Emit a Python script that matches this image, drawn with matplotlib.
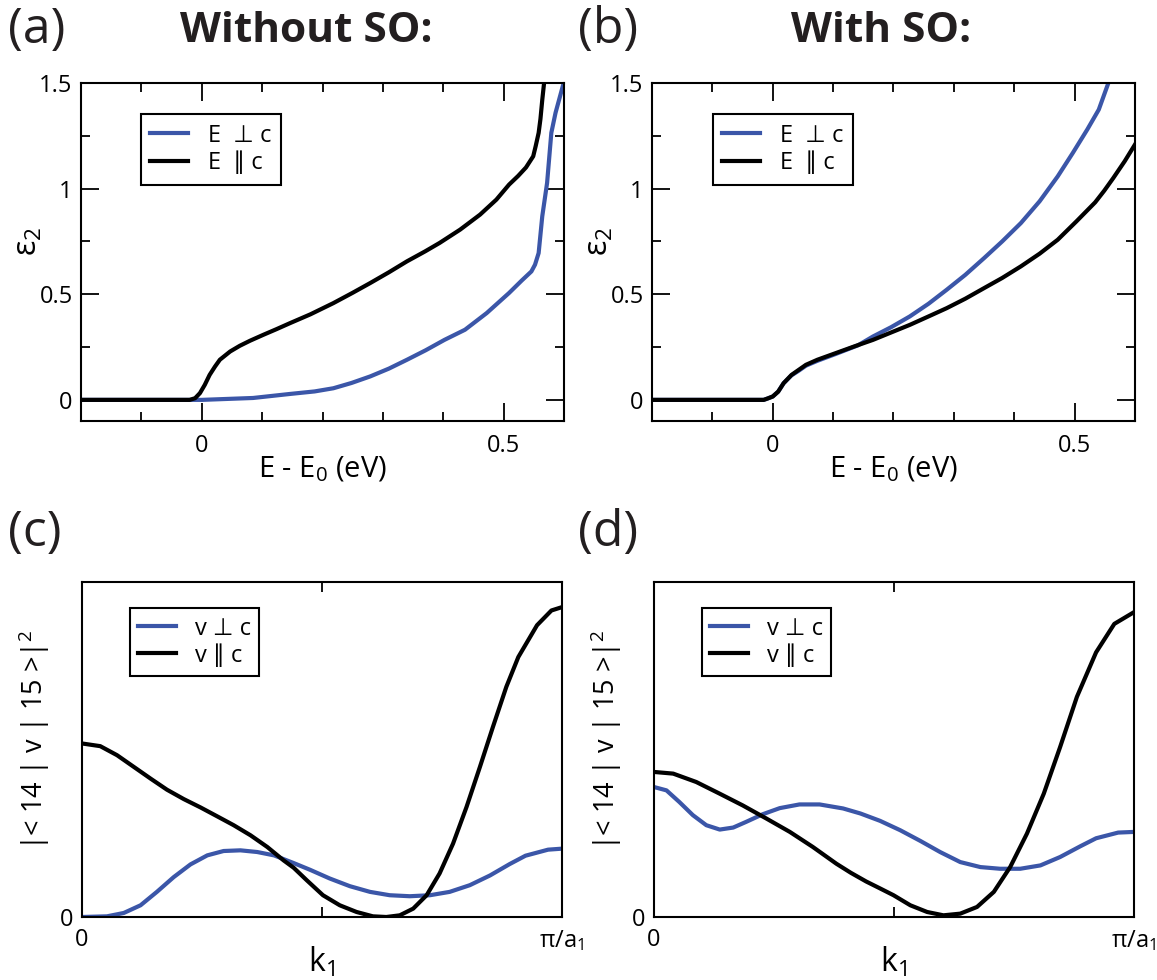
import numpy as np
import matplotlib
matplotlib.use("Agg")
import matplotlib.pyplot as plt
from matplotlib.ticker import FixedLocator

plt.rcParams['font.family'] = ['Open Sans', 'DejaVu Sans']
plt.rcParams['mathtext.fontset'] = 'custom'
plt.rcParams['mathtext.rm'] = 'Open Sans'
plt.rcParams['mathtext.it'] = 'Open Sans'

BLUE = '#3B56A8'

# ---- Panel (a): without SO ----
a_par_x = [-0.20, -0.02, -0.011, -0.003, 0.005, 0.013, 0.022, 0.03, 0.047, 0.063, 0.08, 0.102,
           0.124, 0.146, 0.18, 0.218, 0.25, 0.279, 0.31, 0.34, 0.37, 0.394, 0.428, 0.461,
           0.488, 0.509, 0.524, 0.537, 0.549, 0.553, 0.558, 0.561, 0.564, 0.567]
a_par_y = [0.0, 0.0, 0.008, 0.032, 0.071, 0.118, 0.158, 0.19, 0.229, 0.256, 0.28, 0.308,
           0.335, 0.363, 0.405, 0.458, 0.507, 0.553, 0.604, 0.656, 0.703, 0.743, 0.806, 0.877,
           0.948, 1.019, 1.06, 1.10, 1.153, 1.20, 1.264, 1.33, 1.42, 1.50]
a_perp_x = [-0.20, 0.0, 0.085, 0.146, 0.187, 0.218, 0.248, 0.279, 0.31, 0.34, 0.371, 0.402,
            0.436, 0.472, 0.509, 0.53, 0.546, 0.552, 0.558, 0.564, 0.572, 0.579, 0.586, 0.598]
a_perp_y = [0.0, 0.0, 0.009, 0.028, 0.040, 0.055, 0.08, 0.111, 0.148, 0.19, 0.235, 0.284,
            0.332, 0.411, 0.506, 0.565, 0.608, 0.64, 0.695, 0.869, 1.027, 1.264, 1.359, 1.485]

# ---- Panel (b): with SO ----
b_par_x = [-0.20, -0.015, -0.009, 0.0, 0.009, 0.018, 0.031, 0.043, 0.055, 0.074, 0.104, 0.135,
           0.166, 0.196, 0.227, 0.258, 0.288, 0.319, 0.35, 0.38, 0.411, 0.442, 0.472, 0.503,
           0.534, 0.549, 0.564, 0.583, 0.60]
b_par_y = [0.0, 0.0, 0.006, 0.016, 0.039, 0.079, 0.118, 0.142, 0.166, 0.19, 0.221, 0.253,
           0.284, 0.319, 0.355, 0.395, 0.434, 0.479, 0.529, 0.577, 0.632, 0.692, 0.758, 0.845,
           0.935, 0.99, 1.05, 1.13, 1.209]
b_perp_x = [-0.20, -0.015, -0.009, 0.0, 0.009, 0.018, 0.031, 0.043, 0.055, 0.074, 0.104, 0.141,
            0.166, 0.196, 0.227, 0.258, 0.288, 0.319, 0.35, 0.38, 0.411, 0.442, 0.472, 0.497,
            0.521, 0.54, 0.555]
b_perp_y = [0.0, 0.0, 0.006, 0.016, 0.039, 0.079, 0.116, 0.138, 0.162, 0.185, 0.217, 0.258,
            0.30, 0.344, 0.395, 0.455, 0.521, 0.592, 0.671, 0.75, 0.837, 0.94, 1.058, 1.169,
            1.28, 1.374, 1.493]

# ---- Panel (c): matrix elements without SO ----
c_par_x = [0.0, 0.038, 0.073, 0.108, 0.143, 0.177, 0.212, 0.247, 0.281, 0.316, 0.351, 0.386,
           0.42, 0.441, 0.468, 0.502, 0.537, 0.572, 0.606, 0.634, 0.662, 0.69, 0.718, 0.745,
           0.773, 0.801, 0.829, 0.856, 0.884, 0.909, 0.948, 0.978, 1.0]
c_par_y = [0.518, 0.51, 0.483, 0.448, 0.413, 0.38, 0.352, 0.327, 0.301, 0.274, 0.244, 0.209,
           0.169, 0.147, 0.11, 0.065, 0.035, 0.015, 0.002, 0.0, 0.005, 0.025, 0.065, 0.13,
           0.219, 0.328, 0.448, 0.567, 0.687, 0.776, 0.871, 0.915, 0.925]
c_perp_x = [0.0, 0.052, 0.087, 0.122, 0.156, 0.191, 0.226, 0.261, 0.295, 0.33, 0.365, 0.40,
            0.441, 0.475, 0.516, 0.558, 0.60, 0.641, 0.683, 0.725, 0.766, 0.808, 0.85, 0.891,
            0.924, 0.971, 1.0]
c_perp_y = [0.0, 0.002, 0.012, 0.035, 0.075, 0.119, 0.157, 0.184, 0.197, 0.199, 0.194, 0.184,
            0.161, 0.141, 0.115, 0.092, 0.075, 0.065, 0.062, 0.065, 0.075, 0.095, 0.124, 0.158,
            0.183, 0.201, 0.204]

# ---- Panel (d): matrix elements with SO ----
d_par_x = [0.0, 0.04, 0.088, 0.137, 0.185, 0.234, 0.283, 0.331, 0.38, 0.41, 0.442, 0.47,
           0.499, 0.534, 0.569, 0.603, 0.638, 0.673, 0.708, 0.742, 0.777, 0.812, 0.846, 0.881,
           0.921, 0.959, 1.0]
d_par_y = [0.433, 0.428, 0.403, 0.368, 0.333, 0.294, 0.254, 0.209, 0.159, 0.132, 0.106, 0.086,
           0.065, 0.035, 0.015, 0.005, 0.01, 0.03, 0.075, 0.149, 0.249, 0.368, 0.507, 0.657,
           0.79, 0.875, 0.91]
d_perp_x = [0.0, 0.026, 0.053, 0.081, 0.109, 0.137, 0.165, 0.192, 0.227, 0.262, 0.303, 0.345,
            0.394, 0.43, 0.471, 0.513, 0.555, 0.596, 0.638, 0.68, 0.721, 0.763, 0.805, 0.846,
            0.888, 0.921, 0.967, 1.0]
d_perp_y = [0.388, 0.378, 0.343, 0.304, 0.274, 0.261, 0.267, 0.284, 0.307, 0.325, 0.336, 0.336,
            0.324, 0.309, 0.287, 0.259, 0.227, 0.194, 0.164, 0.149, 0.144, 0.144, 0.154, 0.179,
            0.211, 0.235, 0.252, 0.254]

eps_xticks = [0.0, 0.5]
eps_xticklabels = ['0', '0.5']
eps_yticks = [0.0, 0.5, 1.0, 1.5]
eps_yticklabels = ['0', '0.5', '1', '1.5']

titles = ['Without SO:', 'With SO:']
panel_labels = ['(a)', '(b)', '(c)', '(d)']
eps_legend = ['E  \u22a5 c', 'E  \u2225 c']
v_legend = ['v \u22a5 c', 'v \u2225 c']

W, H = 1157, 980
fig = plt.figure(figsize=(W / 100, H / 100), dpi=100)

LW = 3.0
SPW = 1.5
TICKFS = 17


def box(l, t, r, b):
    return [l / W, 1 - b / H, (r - l) / W, (b - t) / H]


ax_a = fig.add_axes(box(81, 83, 564, 421))
ax_b = fig.add_axes(box(652, 83, 1135, 421))
ax_c = fig.add_axes(box(82, 582, 562, 917))
ax_d = fig.add_axes(box(654, 582, 1134, 917))


def style_eps(ax, perp, par, leg_x):
    ax.plot(perp[0], perp[1], color=BLUE, lw=LW, label=eps_legend[0])
    ax.plot(par[0], par[1], color='black', lw=LW, label=eps_legend[1])
    ax.set_xlim(-0.2, 0.6)
    ax.set_ylim(-0.1, 1.5)
    ax.xaxis.set_major_locator(FixedLocator(eps_xticks))
    ax.set_xticklabels(eps_xticklabels)
    ax.xaxis.set_minor_locator(FixedLocator([-0.1, 0.1, 0.2, 0.3, 0.4]))
    ax.yaxis.set_major_locator(FixedLocator(eps_yticks))
    ax.set_yticklabels(eps_yticklabels)
    ax.yaxis.set_minor_locator(FixedLocator([0.25, 0.75, 1.25]))
    ax.tick_params(which='both', direction='in', top=True, right=True, width=1.3,
                   labelsize=TICKFS)
    ax.tick_params(which='major', length=13)
    ax.tick_params(which='minor', length=6.8)
    ax.tick_params(axis='x', which='major', pad=9)
    ax.tick_params(axis='y', which='major', pad=6)
    for s in ax.spines.values():
        s.set_linewidth(SPW)
    ax.set_xlabel('E - E$_0$ (eV)', fontsize=21)
    ax.xaxis.set_label_coords(0.5, -0.1)
    ax.xaxis.label.set_va('top')
    ax.set_ylabel('\u03b5$_2$', fontsize=23)
    ax.yaxis.set_label_coords(-0.076, 0.53)
    leg = ax.legend(loc='upper left', bbox_to_anchor=(leg_x, 0.908), borderaxespad=0,
                    fontsize=17, frameon=True, fancybox=False, edgecolor='black',
                    handlelength=1.6, handletextpad=0.85, borderpad=0.4, labelspacing=0.15,
                    framealpha=1)
    leg.get_frame().set_linewidth(1.5)


def style_v(ax, perp, par, leg_x):
    ax.plot(perp[0], perp[1], color=BLUE, lw=LW, label=v_legend[0])
    ax.plot(par[0], par[1], color='black', lw=LW, label=v_legend[1])
    ax.set_xlim(0, 1)
    ax.set_ylim(0, 1)
    ax.xaxis.set_major_locator(FixedLocator([0, 0.5, 1]))
    ax.set_xticklabels(['0', '', '\u03c0/a$_1$'])
    ax.yaxis.set_major_locator(FixedLocator([0]))
    ax.set_yticklabels(['0'])
    ax.tick_params(direction='in', top=True, width=1.3, length=7, labelsize=TICKFS)
    ax.tick_params(axis='x', pad=8)
    ax.tick_params(axis='y', pad=6, length=0)
    for s in ax.spines.values():
        s.set_linewidth(SPW)
    ax.set_xlabel('k$_1$', fontsize=23)
    ax.xaxis.set_label_coords(0.5, -0.085)
    ax.xaxis.label.set_va('top')
    ax.set_ylabel('|< 14 | v | 15 >|$^2$', fontsize=19.5)
    ax.yaxis.set_label_coords(-0.063, 0.53)
    leg = ax.legend(loc='upper left', bbox_to_anchor=(leg_x, 0.921), borderaxespad=0,
                    fontsize=17, frameon=True, fancybox=False, edgecolor='black',
                    handlelength=1.6, handletextpad=0.8, borderpad=0.35, labelspacing=0.12,
                    framealpha=1)
    leg.get_frame().set_linewidth(1.5)


style_eps(ax_a, (a_perp_x, a_perp_y), (a_par_x, a_par_y), 0.124)
style_eps(ax_b, (b_perp_x, b_perp_y), (b_par_x, b_par_y), 0.126)
style_v(ax_c, (c_perp_x, c_perp_y), (c_par_x, c_par_y), 0.10)
style_v(ax_d, (d_perp_x, d_perp_y), (d_par_x, d_par_y), 0.10)

fig.text(306 / W, 1 - 32 / H, titles[0], fontsize=30.5, fontweight='bold', ha='center',
         va='center', color='#231f20')
fig.text(881 / W, 1 - 32 / H, titles[1], fontsize=30.5, fontweight='bold', ha='center',
         va='center', color='#231f20')

for lbl, (x, y) in zip(panel_labels, [(8, 30), (578, 30), (8, 533), (578, 533)]):
    fig.text(x / W, 1 - y / H, lbl, fontsize=36, ha='left', va='center', color='#231f20')

fig.savefig('out.png', dpi=100)
